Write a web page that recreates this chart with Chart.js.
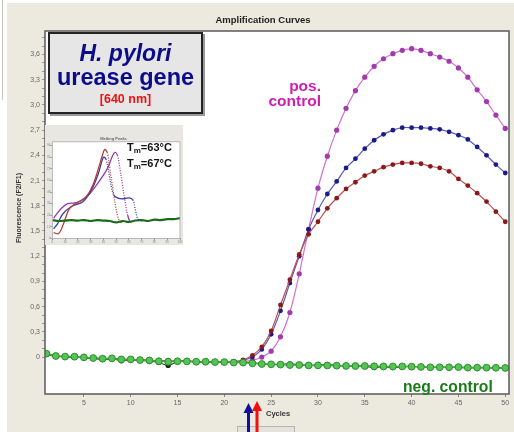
<!DOCTYPE html>
<html>
<head>
<meta charset="utf-8">
<script src="https://cdn.jsdelivr.net/npm/chart.js@4.4.1/dist/chart.umd.min.js"></script>
<style>
  html, body { margin: 0; padding: 0; background: #fff; }
  #wrap { position: relative; width: 514px; height: 432px; overflow: hidden; font-family: "Liberation Sans", Arial, sans-serif; }
  #panel { position: absolute; left: 7px; top: 3px; right: 0; bottom: 0; background: #ece9df; }
  #leftline { position: absolute; left: 2px; top: 0; width: 1px; height: 100px; background: #c8c4b8; }
  #main { position: absolute; left: 0; top: 0; }
  .lbl { position: absolute; white-space: nowrap; font-weight: bold; }
  #title { left: 0; width: 526px; top: 14px; text-align: center; font-size: 9.5px; color: #222; }
  #ytitle { left: 18px; top: 208px; font-size: 7px; color: #333; transform: translate(-50%, -50%) rotate(-90deg); }
  #xtitle { left: 266px; top: 409px; font-size: 7.5px; color: #333; }
  #box { position: absolute; left: 48px; top: 32px; width: 151px; height: 78px; background: #e6e6e6;
         border: 2px solid #222; box-shadow: 2px 2px 0 #999; text-align: center; }
  #box .a { font-size: 23px; font-style: italic; color: #0c0c8a; line-height: 24px; margin-top: 7px; }
  #box .b { font-size: 23.5px; color: #0c0c8a; line-height: 24px; }
  #box .c { font-size: 12.5px; color: #ee1111; line-height: 20px; }
  #pos { right: 193px; top: 78px; font-size: 15.5px; color: #cc1fae; text-align: right; line-height: 15px; }
  #neg { left: 403px; top: 378px; font-size: 15.7px; color: #1a7a1a; }
  #insetbox { position: absolute; left: 45px; top: 125px; width: 138px; height: 120px; background: #e9e7e1; }
  #inset { position: absolute; left: 0; top: 0; }
  #tm { left: 127px; top: 141px; font-size: 11px; color: #111; line-height: 13px; }
  #tm sub { font-size: 8px; vertical-align: -2px; }
  #scroll { position: absolute; left: 237px; top: 426px; width: 56px; height: 7px; background: #e4e2dc; border: 1px solid #b8b5ac; }
  #arrows { position: absolute; left: 0; top: 0; }
</style>
</head>
<body>
<div id="wrap">
  <div id="panel"></div>
  <div id="leftline"></div>
  <canvas id="main" width="514" height="432"></canvas>
  <div class="lbl" id="title">Amplification Curves</div>
  <div class="lbl" id="ytitle">Fluorescence (F2/F1)</div>
  <div class="lbl" id="xtitle">Cycles</div>
  <div id="box">
    <div class="a" style="font-weight:bold">H. pylori</div>
    <div class="b" style="font-weight:bold">urease gene</div>
    <div class="c" style="font-weight:bold">[640 nm]</div>
  </div>
  <div class="lbl" id="pos">pos.<br>control</div>
  <div class="lbl" id="neg">neg. control</div>
  <div id="insetbox"><canvas id="inset" width="138" height="120"></canvas></div>
  <div class="lbl" id="tm">T<sub>m</sub>=63°C<br>T<sub>m</sub>=67°C</div>
  <div id="scroll"></div>
  <svg id="arrows" width="514" height="432">
    <rect x="247" y="412" width="3" height="20" fill="#10109a"/>
    <polygon points="243.5,413 248.5,403 253.5,413" fill="#10109a"/>
    <rect x="255.5" y="410" width="3" height="22" fill="#f01010"/>
    <polygon points="252,411 257,401 262,411" fill="#f01010"/>
  </svg>
</div>
<script>
// ── Amplification data (cycle → fluorescence) ─────────────────────────────
const cycles = [1, 2, 3, 4, 5, 6, 7, 8, 9, 10, 11, 12, 13, 14, 15, 16, 17, 18, 19, 20,
    21, 22, 23, 24, 25, 26, 27, 28, 29, 30, 31, 32, 33, 34, 35, 36, 37, 38, 39, 40,
    41, 42, 43, 44, 45, 46, 47, 48, 49, 50];

const posMagenta = [0.04, 0.015, 0.005, 0.0, -0.005, -0.01, -0.02, -0.02, -0.03, -0.03,
    -0.035, -0.04, -0.045, -0.04, -0.05, -0.05, -0.055, -0.055, -0.06, -0.06,
    -0.055, -0.05, -0.04, 0.0, 0.07, 0.24, 0.53, 0.99, 1.52, 2.01,
    2.39, 2.70, 2.96, 3.17, 3.33, 3.46, 3.55, 3.61, 3.65, 3.67,
    3.65, 3.61, 3.57, 3.52, 3.44, 3.33, 3.18, 3.04, 2.88, 2.72];

const posBlue = [0.04, 0.015, 0.005, 0.0, -0.005, -0.01, -0.02, -0.02, -0.03, -0.03,
    -0.035, -0.04, -0.045, -0.05, -0.05, -0.05, -0.055, -0.055, -0.06, -0.06,
    -0.055, -0.04, 0.0, 0.09, 0.27, 0.55, 0.88, 1.20, 1.52, 1.75,
    1.94, 2.09, 2.25, 2.36, 2.48, 2.58, 2.65, 2.70, 2.73, 2.73,
    2.73, 2.72, 2.71, 2.68, 2.64, 2.59, 2.50, 2.40, 2.29, 2.19];

const posRed = [0.04, 0.015, 0.005, 0.0, -0.005, -0.01, -0.02, -0.02, -0.03, -0.03,
    -0.035, -0.04, -0.045, -0.05, -0.05, -0.05, -0.055, -0.055, -0.06, -0.06,
    -0.055, -0.035, 0.02, 0.12, 0.31, 0.62, 0.92, 1.22, 1.46, 1.61,
    1.77, 1.89, 2.00, 2.08, 2.16, 2.21, 2.26, 2.29, 2.31, 2.31,
    2.30, 2.27, 2.25, 2.21, 2.12, 2.04, 1.95, 1.85, 1.73, 1.61];

const negGreen = [0.04, 0.012, 0.005, 0.004, -0.004, -0.012, -0.02, -0.016, -0.028, -0.028,
    -0.036, -0.04, -0.05, -0.056, -0.05, -0.052, -0.056, -0.056, -0.06, -0.06,
    -0.066, -0.066, -0.075, -0.083, -0.087, -0.09, -0.095, -0.095, -0.1, -0.1,
    -0.1, -0.103, -0.106, -0.107, -0.107, -0.11, -0.112, -0.113, -0.112, -0.115,
    -0.118, -0.122, -0.122, -0.122, -0.12, -0.126, -0.126, -0.127, -0.128, -0.13];

const negDark = [0.03, 0.01, 0.0, 0.0, -0.01, -0.015, -0.03, -0.02, -0.045, -0.03,
    -0.04, -0.045, -0.065, -0.1, -0.055, -0.05, -0.06, -0.055, -0.065, -0.06,
    -0.07, -0.06, -0.07, -0.08, -0.085, -0.09, -0.08, -0.09, -0.1, -0.095,
    -0.09, -0.1, -0.11, -0.105, -0.11, -0.125, -0.115, -0.125, -0.115, -0.11,
    -0.12, -0.125, -0.12, -0.125, -0.12, -0.13, -0.125, -0.13, -0.13, -0.13];

const xTickValues = [5, 10, 15, 20, 25, 30, 35, 40, 45, 50];
const yTickValues = [0, 0.1, 0.2, 0.3, 0.4, 0.5, 0.6, 0.7, 0.8, 0.9, 1.0, 1.1, 1.2, 1.3,
    1.4, 1.5, 1.6, 1.7, 1.8, 1.9, 2.0, 2.1, 2.2, 2.3, 2.4, 2.5, 2.6, 2.7, 2.8, 2.9,
    3.0, 3.1, 3.2, 3.3, 3.4, 3.5, 3.6, 3.7, 3.8];
const yLabelValues = [0, 0.3, 0.6, 0.9, 1.2, 1.5, 1.8, 2.1, 2.4, 2.7, 3.0, 3.3, 3.6];

// ── Melting peak inset data (temperature index → -dF/dT, 0..100) ─────────
const meltRed = [[1, 6], [5, 5], [9, 16], [13, 30], [17, 35], [21, 38], [27, 44], [32, 56],
    [36, 72], [39, 85], [41, 92], [43, 89], [45, 72], [47, 55], [50, 30], [53, 17], [56, 18]];
const meltBlue = [[1, 10], [4, 15], [8, 25], [15, 33], [24, 38], [31, 51], [36, 67], [40, 84],
    [42, 82], [44, 70], [46, 55], [48, 45], [51, 42], [55, 41], [60, 42], [63, 40], [65, 30],
    [67, 20], [70, 18]];
const meltMagenta = [[1, 21], [7, 31], [12, 36], [19, 37], [27, 43], [35, 56], [43, 72],
    [47, 85], [49, 89], [51, 86], [53, 72], [55, 55], [57, 38], [59, 24], [61, 17], [63, 18]];
const meltGreen = [[0, 19], [5, 18], [10, 18.5], [15, 19], [20, 18.5], [25, 19], [30, 18],
    [35, 19], [40, 18.5], [45, 18], [50, 16.5], [55, 18], [60, 17], [65, 18.5], [70, 19],
    [75, 18], [80, 19.5], [85, 19], [90, 20], [95, 20], [100, 21]];

// ── Plugins ───────────────────────────────────────────────────────────────
const plotFrame = {
    id: 'plotFrame',
    beforeDraw(chart, args, opts) {
        const { ctx, chartArea: a } = chart;
        ctx.save();
        ctx.fillStyle = '#ffffff';
        ctx.fillRect(a.left, a.top, a.right - a.left, a.bottom - a.top);
        ctx.restore();
    },
    afterDraw(chart, args, opts) {
        const { ctx, chartArea: a } = chart;
        ctx.save();
        ctx.strokeStyle = opts.color || '#555';
        ctx.lineWidth = opts.width || 1.5;
        ctx.strokeRect(a.left, a.top, a.right - a.left, a.bottom - a.top);
        ctx.restore();
    },
};

const series = (label, data, line, point, radius, order, extra) => Object.assign({
    label,
    data,
    borderColor: line,
    backgroundColor: point,
    pointBackgroundColor: point,
    pointBorderColor: point,
    pointRadius: radius,
    pointBorderWidth: 0,
    borderWidth: 1.2,
    tension: 0.3,
    order,
}, extra || {});

new Chart(document.getElementById('main'), {
    type: 'line',
    data: {
        labels: cycles,
        datasets: [
            series('neg', negGreen, '#3fae3f', '#55c455', 3.4, 0,
                { pointBorderColor: '#2c8e2c', pointBorderWidth: 1, borderWidth: 1.6 }),
            series('negDark', negDark, '#2a4a2a', '#1a2a1a', 2.6, 1),
            series('red', posRed, '#bb5050', '#8a1a1a', 2.4, 2),
            series('blue', posBlue, '#5a5ab8', '#1a1a88', 2.4, 3),
            series('magenta', posMagenta, '#d070d4', '#a23aae', 2.6, 4),
        ],
    },
    options: {
        responsive: false,
        animation: false,
        layout: { padding: { left: 8, top: 31, right: 5, bottom: 18 } },
        plugins: {
            legend: { display: false },
            tooltip: { enabled: false },
            plotFrame: { color: '#5a5a5a', width: 1.5 },
        },
        scales: {
            x: {
                type: 'linear',
                min: 0.85,
                max: 50.4,
                afterBuildTicks: (s) => { s.ticks = xTickValues.map((v) => ({ value: v })); },
                afterFit: (s) => { s.height = 20; },
                ticks: { color: '#666', font: { size: 7, family: 'Liberation Sans' }, padding: 2, maxRotation: 0 },
                grid: { drawOnChartArea: false, tickLength: 3, color: '#888' },
                border: { display: false },
            },
            y: {
                min: -0.44,
                max: 3.88,
                afterBuildTicks: (s) => { s.ticks = yTickValues.map((v) => ({ value: v })); },
                afterFit: (s) => { s.width = 37; },
                ticks: {
                    color: '#666',
                    font: { size: 7, family: 'Liberation Sans' },
                    padding: 2,
                    autoSkip: false,
                    callback: (v) => {
                        const hit = yLabelValues.find((l) => Math.abs(l - v) < 1e-6);
                        if (hit === undefined) return '';
                        return hit === 0 ? '0' : hit.toFixed(1).replace('.', ',');
                    },
                },
                grid: { drawOnChartArea: false, tickLength: 3, color: '#999' },
                border: { display: false },
            },
        },
    },
    plugins: [plotFrame],
});

// ── Inset: melting peaks ──────────────────────────────────────────────────
const toXY = (pairs) => pairs.map(([x, y]) => ({ x, y }));
const dropDash = (ctx) => (ctx.p1.parsed.y < ctx.p0.parsed.y - 9 ? [1, 1.5] : undefined);

const meltSeries = (data, color, width) => ({
    data: toXY(data),
    borderColor: color,
    borderWidth: width,
    pointRadius: 0,
    tension: 0.35,
    segment: { borderDash: dropDash },
});

new Chart(document.getElementById('inset'), {
    type: 'line',
    data: {
        datasets: [
            meltSeries(meltGreen, '#1c6a1c', 2.2),
            meltSeries(meltRed, '#b04030', 1.3),
            meltSeries(meltBlue, '#3a3aa8', 1.3),
            meltSeries(meltMagenta, '#9a3aa8', 1.3),
        ],
    },
    options: {
        responsive: false,
        animation: false,
        layout: { padding: { left: 2, top: 10, right: 3, bottom: 1 } },
        plugins: {
            legend: { display: false },
            tooltip: { enabled: false },
            title: { display: true, text: 'Melting Peaks', color: '#666', font: { size: 4 }, padding: 1 },
            plotFrame: { color: '#aaa', width: 0.8 },
        },
        scales: {
            x: {
                type: 'linear', min: 0, max: 100,
                ticks: { stepSize: 10, color: '#888', font: { size: 3 }, padding: 0 },
                grid: { drawOnChartArea: false, tickLength: 2, color: '#999' },
                border: { display: false },
            },
            y: {
                min: 0, max: 100,
                ticks: { stepSize: 6, color: '#888', font: { size: 3 }, padding: 0 },
                grid: { drawOnChartArea: false, tickLength: 2, color: '#999' },
                border: { display: false },
            },
        },
    },
    plugins: [plotFrame],
});
</script>
</body>
</html>
